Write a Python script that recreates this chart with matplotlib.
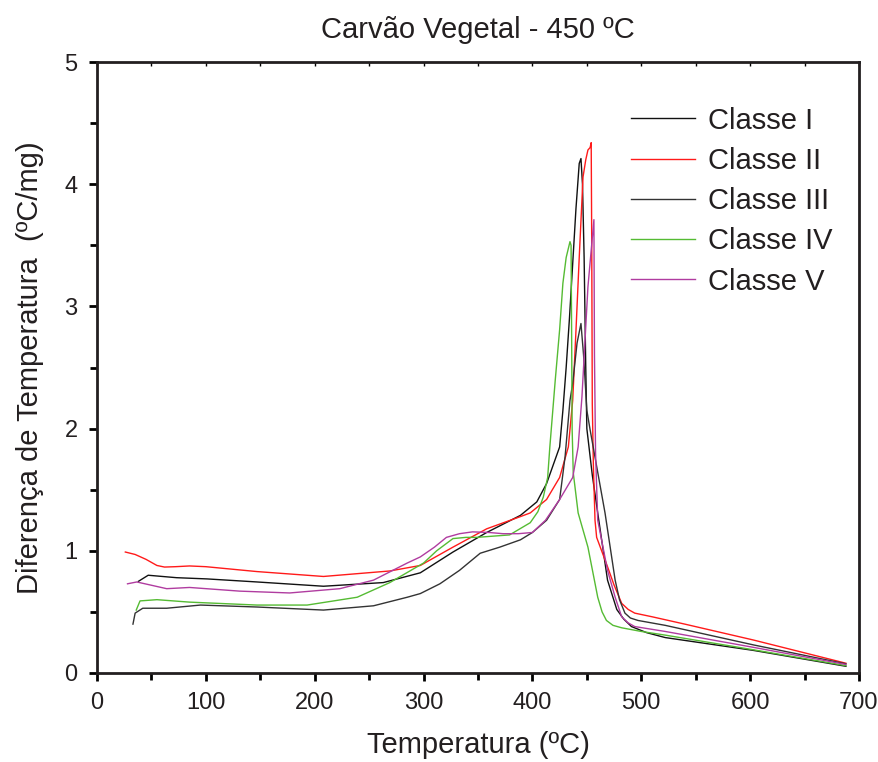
import matplotlib
matplotlib.use('Agg')
import matplotlib.pyplot as plt
from matplotlib.ticker import MultipleLocator

plt.rcParams['font.family'] = ['Liberation Sans', 'DejaVu Sans']

# Classe I (black, tall peak)
x1 = [38, 47, 73, 101, 147, 208, 263, 297, 327, 358, 389, 404, 413, 425, 428, 431, 434, 437,
      440, 443, 444.6, 446, 447.5, 449, 450, 455, 460, 469, 477.5, 484, 491, 505, 522, 603, 688]
y1 = [0.75, 0.80, 0.78, 0.77, 0.745, 0.71, 0.74, 0.82, 0.99, 1.15, 1.29, 1.40, 1.55, 1.85, 2.15,
      2.5, 2.9, 3.35, 3.8, 4.17, 4.21, 4.0, 3.4, 2.5, 2.0, 1.62, 1.31, 0.76, 0.52, 0.44, 0.38,
      0.33, 0.29, 0.185, 0.055]

# Classe II (red)
x2 = [26, 35, 45, 55, 62, 72, 85, 100, 147, 208, 269, 297, 327, 358, 389, 398, 413, 425, 433,
      437, 440, 443, 446.5, 449, 451, 453, 454, 454.5, 455, 456, 457.5, 459, 469, 475, 482, 488,
      494, 510, 540, 603, 688]
y2 = [0.99, 0.97, 0.93, 0.88, 0.867, 0.87, 0.876, 0.87, 0.83, 0.79, 0.835, 0.88, 1.03, 1.18,
      1.28, 1.31, 1.42, 1.6, 1.85, 2.23, 2.8, 3.4, 4.06, 4.2, 4.28, 4.3, 4.34, 3.5, 2.2, 1.7,
      1.25, 1.11, 0.87, 0.72, 0.57, 0.52, 0.49, 0.46, 0.40, 0.27, 0.08]

# Classe III (black, low peak)
x3 = [33, 35, 42, 64, 95, 147, 208, 254, 285, 297, 315, 333, 352, 370, 389, 400, 413, 425, 430,
      434.5, 437, 441, 444.6, 447, 450, 453, 466.7, 476, 480, 485, 490, 497, 522, 603, 688]
y3 = [0.40, 0.49, 0.53, 0.53, 0.556, 0.54, 0.515, 0.55, 0.62, 0.65, 0.73, 0.84, 0.98, 1.03,
      1.09, 1.15, 1.25, 1.42, 1.77, 2.23, 2.37, 2.7, 2.86, 2.6, 2.15, 1.99, 1.31, 0.76, 0.60,
      0.49, 0.45, 0.43, 0.39, 0.23, 0.075]

# Classe IV (green)
x4 = [36, 39.5, 55, 85, 147, 193, 239, 269, 300, 312, 327, 339, 349, 379, 398, 405, 410, 414,
      416, 421, 425, 428, 431, 434.5, 435.5, 436, 436.5, 437.5, 442, 451, 460, 464, 468, 474,
      482, 500, 522, 603, 688]
y4 = [0.515, 0.59, 0.60, 0.58, 0.556, 0.556, 0.62, 0.74, 0.90, 1.0, 1.10, 1.11, 1.11, 1.13,
      1.23, 1.32, 1.44, 1.6, 1.85, 2.40, 2.81, 3.19, 3.4, 3.53, 3.5, 2.81, 1.99, 1.64, 1.31,
      1.03, 0.62, 0.50, 0.43, 0.39, 0.37, 0.34, 0.31, 0.19, 0.06]

# Classe V (purple)
x5 = [28, 36.5, 64, 85, 131, 177, 223, 254, 285, 297, 310, 321, 333, 345, 360, 373, 387, 400,
      412, 425, 437, 442, 445.5, 451, 456.5, 457, 458, 460, 469, 476, 482, 488, 494, 522, 603,
      688]
y5 = [0.73, 0.745, 0.69, 0.70, 0.67, 0.655, 0.69, 0.76, 0.90, 0.95, 1.03, 1.11, 1.14, 1.155,
      1.15, 1.14, 1.14, 1.15, 1.25, 1.42, 1.6, 1.85, 2.26, 3.16, 3.71, 2.6, 1.8, 1.25, 0.84,
      0.62, 0.46, 0.41, 0.38, 0.34, 0.21, 0.07]

labels = ['Classe I', 'Classe II', 'Classe III', 'Classe IV', 'Classe V']
colors = ['#111111', '#ff1a1a', '#333333', '#55bb33', '#b03ca0']

txt = '#231f20'

fig = plt.figure(figsize=(8.79, 7.62), dpi=100)
ax = fig.add_axes([0.1104, 0.1168, 0.8668, 0.8018])

for xs, ys, lab, c in zip([x1, x2, x3, x4, x5], [y1, y2, y3, y4, y5], labels, colors):
    ax.plot(xs, ys, color=c, lw=1.0, label=lab)

ax.set_xlim(0, 700)
ax.set_ylim(0, 5)
ax.xaxis.set_major_locator(MultipleLocator(100))
ax.xaxis.set_minor_locator(MultipleLocator(50))
ax.yaxis.set_major_locator(MultipleLocator(1))
ax.yaxis.set_minor_locator(MultipleLocator(0.5))
ax.tick_params(axis='both', which='major', direction='out', length=6, width=2,
               labelsize=17, labelcolor=txt, pad=8)
ax.tick_params(axis='both', which='minor', direction='out', length=5, width=2)
ax.tick_params(axis='x', which='both', top=True, labeltop=False)
for sp in ax.spines.values():
    sp.set_linewidth(2)
    sp.set_color('#231f20')

# top ticks point inward
for t in ax.xaxis.get_major_ticks() + ax.xaxis.get_minor_ticks():
    t.tick2line.set_markersize(3)
    t.tick2line.set_markeredgewidth(1)
    t.tick2line.set_marker(3)

ax.set_title('Carvão Vegetal - 450 ºC', fontsize=21, color=txt, pad=17)
ax.set_xlabel('Temperatura (ºC)', fontsize=21, color=txt, labelpad=12)
ax.set_ylabel('Diferença de Temperatura  (ºC/mg)', fontsize=21, color=txt, labelpad=15)

leg = ax.legend(loc='upper right', bbox_to_anchor=(1.0, 0.97), frameon=False,
                fontsize=21, handlelength=2.2, labelspacing=0.42, handletextpad=0.45)
for t in leg.get_texts():
    t.set_color(txt)

fig.savefig('out.png', dpi=100)
